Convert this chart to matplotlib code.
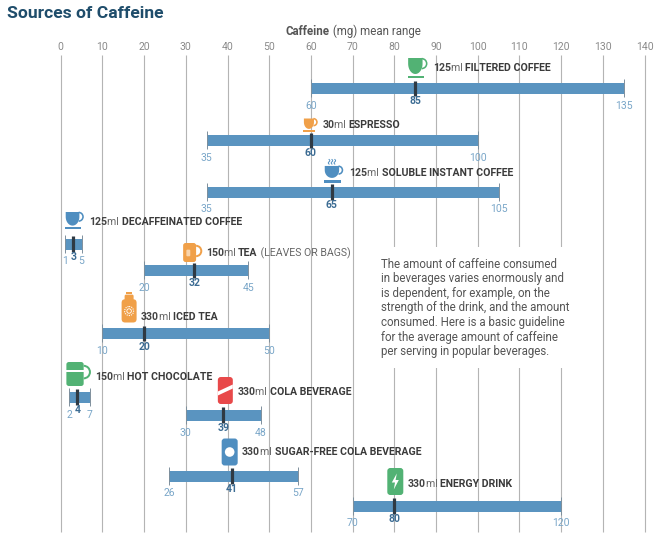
import numpy as np
import matplotlib
matplotlib.use('Agg')
import matplotlib.pyplot as plt
from matplotlib.patches import FancyBboxPatch, Polygon, Circle, Rectangle, Wedge
from matplotlib.offsetbox import TextArea, HPacker, AnnotationBbox

plt.rcParams['font.family'] = ['Roboto', 'DejaVu Sans']
NARROW = ['Roboto', 'DejaVu Sans']

# ---------------- data ----------------
volumes = ['125', '30', '125', '125', '150', '330', '150', '330', '330', '330']
names = ['FILTERED COFFEE', 'ESPRESSO', 'SOLUBLE INSTANT COFFEE', 'DECAFFEINATED COFFEE',
         'TEA', 'ICED TEA', 'HOT CHOCOLATE', 'COLA BEVERAGE',
         'SUGAR-FREE COLA BEVERAGE', 'ENERGY DRINK']
notes = ['', '', '', '', '(LEAVES OR BAGS)', '', '', '', '', '']
low = [60, 35, 35, 1, 20, 10, 2, 30, 26, 70]
mean = [85, 60, 65, 3, 32, 20, 4, 39, 41, 80]
high = [135, 100, 105, 5, 45, 50, 7, 48, 57, 120]
ticks = list(range(0, 150, 10))
icons = ['cup', 'espresso', 'instant', 'decaf', 'mug', 'bottle', 'chocmug', 'cola', 'diet', 'energy']

title = 'Sources of Caffeine'
axis_title_bold = 'Caffeine'
axis_title_rest = ' (mg) mean range'
note_text = ('The amount of caffeine consumed\n'
             'in beverages varies enormously and\n'
             'is dependent, for example, on the\n'
             'strength of the drink, and the amount\n'
             'consumed. Here is a basic guideline\n'
             'for the average amount of caffeine\n'
             'per serving in popular beverages.')

# ---------------- layout (pixel rows) ----------------
bar_y = [88.5, 140.5, 192, 244, 270.5, 333.5, 397, 415, 476, 506]
icon_y = [68, 125, 171, 220.5, 252.5, 307, 374, 390.5, 452, 481.5]
icon_dx = [3, 0, 3, 2, -2, -15, 1, 2, -2, 1]
label_y = [68, 125.5, 173, 222, 253, 317, 377.5, 392, 452, 484]
BAR_H = 11

BAR_C = '#5a94c0'
GRID_C = '#b4b4b4'
MEAN_C = '#2f3a44'
RANGE_C = '#79a6c8'
MEANLAB_C = '#3c6c93'
TXT_C = '#3a3a3a'
ORANGE = '#f0a049'
GREEN = '#52b274'
RED = '#e8494a'
BLUE = '#4f8ec0'

W, H = 658, 544
fig = plt.figure(figsize=(W / 100, H / 100), dpi=100)
fig.patch.set_facecolor('white')

ax = fig.add_axes([0, 0, 1, 1])
PX0, PPU = 60.7, 4.17
ax.set_xlim(-PX0 / PPU, (W - PX0) / PPU)
ax.set_ylim(H, 0)
ax.axis('off')

ov = fig.add_axes([0, 0, 1, 1], zorder=5)
ov.set_xlim(0, W)
ov.set_ylim(H, 0)
ov.axis('off')
ov.patch.set_alpha(0)


def to_px(xv, yv):
    d = ax.transData.transform((xv, yv))
    return ov.transData.inverted().transform(d)


# gridlines + tick labels
ax.vlines(ticks, 55, 532, color=GRID_C, lw=0.8, zorder=1)
for t in ticks:
    ax.text(t, 47, str(t), ha='center', va='center', fontsize=7.5,
            color='#8a8a8a', family=NARROW)

# white panel behind the note
ax.add_patch(Rectangle((72.5, 247), 52, 121, facecolor='white', edgecolor='none', zorder=2))
ax.text((381 - PX0) / PPU, 257.5, note_text, ha='left', va='top', fontsize=8.3,
        color='#555555', linespacing=1.16, zorder=3)

# titles
fig.text(7 / W, 1 - 13 / H, title, ha='left', va='center', fontsize=12.6,
         fontweight='bold', color='#1f4d6b', family=NARROW)
ta1 = TextArea(axis_title_bold, textprops=dict(fontsize=8.3, fontweight='bold', color='#555555', family=NARROW))
ta2 = TextArea(axis_title_rest, textprops=dict(fontsize=8.3, color='#555555', family=NARROW))
ab = AnnotationBbox(HPacker(children=[ta1, ta2], align='baseline', pad=0, sep=0),
                    (353, 31), xycoords='data', box_alignment=(0.5, 0.5), frameon=False, pad=0)
ov.add_artist(ab)

# bars
for i in range(len(names)):
    y = bar_y[i]
    ax.barh(y, high[i] - low[i], left=low[i], height=BAR_H, color=BAR_C, zorder=4)
    top, bot = y - BAR_H / 2, y + BAR_H / 2
    ax.vlines([low[i], high[i]], top - 4, bot + 3, color='#7e8f9c', lw=0.7, zorder=4)
    ax.vlines(mean[i], top - 2.5, bot + 2, color=MEAN_C, lw=2.3, zorder=5)
    ax.text(mean[i], bot + 7.5, str(mean[i]), ha='center', va='center', fontsize=7.5,
            fontweight='bold', color=MEANLAB_C, family=NARROW, zorder=5)
    for v in (low[i], high[i]):
        ax.text(v, bot + 12, str(v), ha='center', va='center', fontsize=7.5,
                color=RANGE_C, family=NARROW, zorder=5)


# ---------------- icons ----------------
def cup_shape(cx, cy, w, h, color, saucer=True, steam=False):
    bw = w * 0.72
    x0 = cx - w / 2
    top = cy - h / 2 + (h * 0.28 if steam else 0)
    bh = (cy + h / 2 - (h * 0.2 if saucer else 0)) - top
    t = np.linspace(0, np.pi, 30)
    xs = list(x0 + bw / 2 + bw / 2 * np.cos(t))
    ys = list(top + bh * 0.35 + bh * 0.65 * np.sin(t))
    pts = [(x0 + bw, top)] + list(zip(xs, ys)) + [(x0, top)]
    ov.add_patch(Polygon(pts, closed=True, facecolor=color, edgecolor='none', zorder=6))
    r = bh * 0.26
    ov.add_patch(Wedge((x0 + bw - r * 0.2, top + bh * 0.35), r + 1.6, -90, 90, width=1.6,
                       facecolor=color, edgecolor='none', zorder=6))
    if saucer:
        ov.add_patch(Rectangle((x0 - 0.5, cy + h / 2 - h * 0.12), bw + 2, h * 0.12,
                               facecolor=color, edgecolor='none', zorder=6))
    if steam:
        for k in range(3):
            sx = x0 + bw * 0.3 + k * bw * 0.2
            yy = np.linspace(cy - h / 2, cy - h / 2 + h * 0.2, 10)
            xx = sx + 0.8 * np.sin((yy - yy[0]) / (yy[-1] - yy[0]) * 2 * np.pi)
            ov.plot(xx, yy, color=color, lw=0.7, zorder=6)


def mug_shape(cx, cy, w, h, color, stripe=False):
    bw = w * 0.72
    x0 = cx - w / 2
    ov.add_patch(FancyBboxPatch((x0, cy - h / 2), bw, h, boxstyle='round,pad=0,rounding_size=2.5',
                                facecolor=color, edgecolor='none', zorder=6))
    r = h * 0.22
    ov.add_patch(Wedge((x0 + bw, cy - h * 0.08), r + 2, -90, 90, width=2,
                       facecolor=color, edgecolor='none', zorder=6))
    if stripe:
        ov.add_patch(Rectangle((x0, cy - h * 0.15), bw, 1.4, facecolor='white',
                               edgecolor='none', zorder=7))
    else:
        ov.add_patch(FancyBboxPatch((x0 + bw * 0.25, cy - h * 0.15), bw * 0.3, h * 0.35,
                                    boxstyle='round,pad=0,rounding_size=1', facecolor='white',
                                    alpha=0.55, edgecolor='none', zorder=7))


def can_shape(cx, cy, w, h, color, kind):
    ov.add_patch(FancyBboxPatch((cx - w / 2, cy - h / 2), w, h,
                                boxstyle='round,pad=0,rounding_size=3',
                                facecolor=color, edgecolor='none', zorder=6))
    if kind == 'cola':
        pts = [(cx - w / 2, cy + 1), (cx + w / 2, cy - 6), (cx + w / 2, cy - 2), (cx - w / 2, cy + 5)]
        ov.add_patch(Polygon(pts, closed=True, facecolor='white', edgecolor='none', zorder=7))
    elif kind == 'diet':
        ov.add_patch(Circle((cx, cy), w * 0.3, facecolor='white', edgecolor='none', zorder=7))
    elif kind == 'energy':
        pts = [(cx + 1.5, cy - 8), (cx - 3.5, cy + 1), (cx - 0.3, cy + 1), (cx - 1.5, cy + 8),
               (cx + 3.5, cy - 1.5), (cx + 0.3, cy - 1.5)]
        ov.add_patch(Polygon(pts, closed=True, facecolor='white', edgecolor='none', zorder=7))


def bottle_shape(cx, cy, w, h, color):
    ov.add_patch(Rectangle((cx - w * 0.22, cy - h / 2), w * 0.44, h * 0.08,
                           facecolor=color, edgecolor='none', zorder=6))
    ov.add_patch(FancyBboxPatch((cx - w * 0.3, cy - h / 2 + h * 0.1), w * 0.6, h * 0.2,
                                boxstyle='round,pad=0,rounding_size=1.5',
                                facecolor=color, edgecolor='none', zorder=6))
    ov.add_patch(FancyBboxPatch((cx - w / 2, cy - h / 2 + h * 0.25), w, h * 0.75,
                                boxstyle='round,pad=0,rounding_size=3.5',
                                facecolor=color, edgecolor='none', zorder=6))
    ov.add_patch(Circle((cx, cy + h * 0.13), w * 0.3, facecolor='none', edgecolor='white',
                        lw=0.8, ls=(0, (1, 1)), zorder=7))
    ov.add_patch(Circle((cx, cy + h * 0.13), w * 0.15, facecolor='none', edgecolor='white',
                        lw=0.6, zorder=7))


icon_size = {'cup': (20, 20), 'espresso': (14, 13), 'instant': (20, 23), 'decaf': (19, 17),
             'mug': (18, 19), 'bottle': (15, 31), 'chocmug': (24, 24), 'cola': (15, 27),
             'diet': (16, 27), 'energy': (16, 27)}

for i in range(len(names)):
    mx, _ = to_px(mean[i], 0)
    cx = mx + icon_dx[i]
    cy = icon_y[i]
    kind = icons[i]
    w, h = icon_size[kind]
    if kind == 'cup':
        cup_shape(cx, cy, w, h, GREEN)
    elif kind == 'espresso':
        cup_shape(cx, cy, w, h, ORANGE)
    elif kind == 'instant':
        cup_shape(cx, cy, w, h, BLUE, steam=True)
    elif kind == 'decaf':
        cup_shape(cx, cy, w, h, BLUE)
    elif kind == 'mug':
        mug_shape(cx, cy, w, h, ORANGE)
    elif kind == 'chocmug':
        mug_shape(cx, cy, w, h, GREEN, stripe=True)
    elif kind == 'bottle':
        bottle_shape(cx, cy, w, h, ORANGE)
    else:
        can_shape(cx, cy, w, h, {'cola': RED, 'diet': BLUE, 'energy': GREEN}[kind], kind)

    lx = cx + w / 2 + 4.5
    kids = [TextArea(volumes[i], textprops=dict(fontsize=7.6, fontweight='bold', color='#444444', family=NARROW)),
            TextArea('ml ', textprops=dict(fontsize=7.6, color='#666666', family=NARROW)),
            TextArea(names[i], textprops=dict(fontsize=7.6, fontweight='bold', color=TXT_C, family=NARROW))]
    if notes[i]:
        kids.append(TextArea(' ' + notes[i], textprops=dict(fontsize=7.6, color='#666666', family=NARROW)))
    ab = AnnotationBbox(HPacker(children=kids, align='baseline', pad=0, sep=0),
                        (lx, label_y[i]), xycoords='data', box_alignment=(0, 0.5),
                        frameon=False, pad=0)
    ov.add_artist(ab)

fig.savefig('out.png', dpi=100, facecolor='white')
